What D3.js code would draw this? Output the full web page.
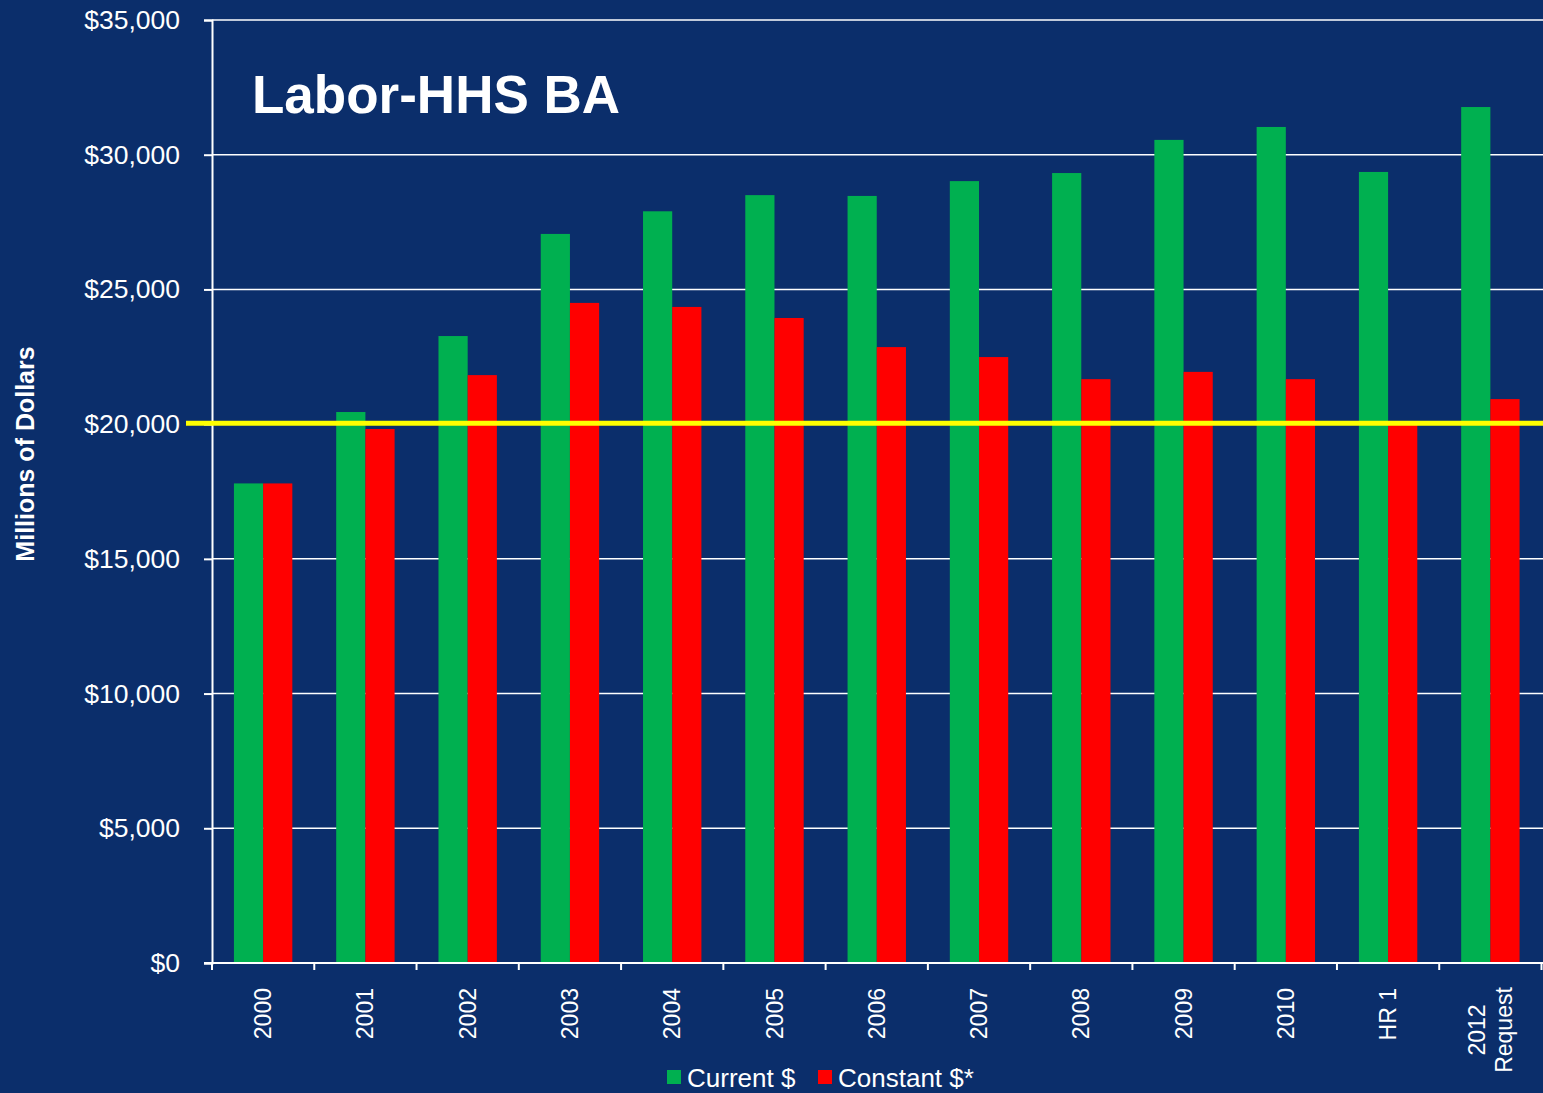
<!DOCTYPE html>
<html>
<head>
<meta charset="utf-8">
<script src="https://cdn.jsdelivr.net/npm/d3@7"></script>
<style>
  html, body { margin: 0; padding: 0; background: #0b2e6b; }
  svg { display: block; font-family: Arial, "Liberation Sans", sans-serif; }
</style>
</head>
<body>
<div id="chart"></div>
<script>
////////
// Data (millions of dollars)
let categories = ["2000", "2001", "2002", "2003", "2004", "2005", "2006",
  "2007", "2008", "2009", "2010", "HR 1", "2012\nRequest"];
let currentDollars = [17800, 20450, 23270, 27060, 27900, 28500, 28470,
  29020, 29320, 30550, 31030, 29360, 31770];
let constantDollars = [17800, 19820, 21820, 24500, 24350, 23940, 22860,
  22490, 21670, 21940, 21670, 19970, 20930];
let seriesNames = ["Current $", "Constant $*"];
let seriesColors = ["#00b050", "#ff0000"];
let yTicks = [0, 5000, 10000, 15000, 20000, 25000, 30000, 35000];
let referenceLevel = 20030;

////////
// Canvas
let svg_width = 1543;
let svg_height = 1093;
let margin = {left: 212, right: 1.5, top: 20, bottom: 130};

let svg = d3.select("#chart")
  .append("svg")
  .attr("width", svg_width)
  .attr("height", svg_height)

svg.append("rect")
  .attr("width", svg_width)
  .attr("height", svg_height)
  .attr("fill", "#0b2e6b")

////////
// Scales
let xScale = d3.scaleBand()
  .domain(categories)
  .range([margin.left, svg_width - margin.right])

let xInner = d3.scaleBand()
  .domain([0, 1])
  .range([0, xScale.bandwidth() * 0.571])

let yScale = d3.scaleLinear()
  .domain([0, 35000])
  .range([svg_height - margin.bottom, margin.top])

let fmt = d3.format("$,")

////////
// Gridlines
svg.append("g")
  .selectAll("line")
  .data(yTicks.slice(1))
  .enter()
  .append("line")
  .attr("x1", margin.left)
  .attr("x2", svg_width)
  .attr("y1", d => yScale(d))
  .attr("y2", d => yScale(d))
  .attr("stroke", "#ffffff")
  .attr("stroke-width", 1.5)

////////
// Bars
let groupOffset = (xScale.bandwidth() - xScale.bandwidth() * 0.571) / 2;
let barData = [];
categories.forEach((c, i) => {
  barData.push({cat: c, s: 0, v: currentDollars[i]});
  barData.push({cat: c, s: 1, v: constantDollars[i]});
});

svg.append("g")
  .selectAll("rect")
  .data(barData)
  .enter()
  .append("rect")
  .attr("x", d => xScale(d.cat) + groupOffset + xInner(d.s))
  .attr("width", xInner.bandwidth())
  .attr("y", d => yScale(d.v))
  .attr("height", d => yScale(0) - yScale(d.v))
  .attr("fill", d => seriesColors[d.s])

////////
// Y axis
let yAxis = d3.axisLeft(yScale)
  .tickValues(yTicks)
  .tickFormat(fmt)
  .tickSize(8)
  .tickPadding(24)

let gy = svg.append("g")
  .attr("transform", `translate(${margin.left},0)`)
  .call(yAxis)
gy.select(".domain").attr("stroke", "#fff").attr("stroke-width", 2)
gy.selectAll(".tick line").attr("stroke", "#fff").attr("stroke-width", 2)
gy.selectAll(".tick text")
  .attr("fill", "#fff")
  .attr("font-size", 26.5)
  .attr("font-family", "Arial, 'Liberation Sans', sans-serif")

////////
// X axis with ticks on band edges
let xAxisLine = svg.append("g")
xAxisLine.append("line")
  .attr("x1", margin.left - 8)
  .attr("x2", svg_width)
  .attr("y1", yScale(0))
  .attr("y2", yScale(0))
  .attr("stroke", "#fff")
  .attr("stroke-width", 2)

let edges = categories.map(c => xScale(c)).concat([xScale.range()[1]]);
xAxisLine.selectAll(".xtick")
  .data(edges)
  .enter()
  .append("line")
  .attr("class", "xtick")
  .attr("x1", d => d)
  .attr("x2", d => d)
  .attr("y1", yScale(0))
  .attr("y2", yScale(0) + 7)
  .attr("stroke", "#fff")
  .attr("stroke-width", 2)

let xLabels = svg.append("g")
categories.forEach(c => {
  let lines = c.split("\n");
  let cx = xScale(c) + xScale.bandwidth() / 2;
  let t = xLabels.append("text")
    .attr("fill", "#fff")
    .attr("font-size", 23)
  if (lines.length === 1) {
    t.attr("transform", `translate(${cx},988) rotate(-90)`)
      .attr("text-anchor", "end")
      .attr("dy", "0.35em")
      .text(c)
  } else {
    t.attr("transform", `translate(${cx},1030) rotate(-90)`)
      .attr("text-anchor", "middle")
    lines.forEach((ln, j) => {
      t.append("tspan")
        .attr("x", 0)
        .attr("dy", j === 0 ? "-0.22em" : "1.15em")
        .text(ln)
    })
  }
})

////////
// Yellow reference line
svg.append("line")
  .attr("x1", 186)
  .attr("x2", svg_width)
  .attr("y1", yScale(referenceLevel))
  .attr("y2", yScale(referenceLevel))
  .attr("stroke", "#ffff00")
  .attr("stroke-width", 5)

////////
// Titles
svg.append("text")
  .attr("x", 252)
  .attr("y", 113)
  .attr("fill", "#fff")
  .attr("font-size", 53)
  .attr("font-weight", "bold")
  .text("Labor-HHS BA")

svg.append("text")
  .attr("transform", `translate(34,${(345 + 563) / 2}) rotate(-90)`)
  .attr("text-anchor", "middle")
  .attr("fill", "#fff")
  .attr("font-size", 25)
  .attr("font-weight", "bold")
  .text("Millions of Dollars")

////////
// Legend
let legendX = [667, 818];
let legend = svg.append("g")
  .selectAll("g")
  .data(seriesNames)
  .enter()
  .append("g")
  .attr("transform", (d, i) => `translate(${legendX[i]},1070)`)

legend.append("rect")
  .attr("width", 14)
  .attr("height", 14)
  .attr("fill", (d, i) => seriesColors[i])

legend.append("text")
  .attr("x", 20)
  .attr("y", 17)
  .attr("fill", "#fff")
  .attr("font-size", 26)
  .text(d => d)
</script>
</body>
</html>
